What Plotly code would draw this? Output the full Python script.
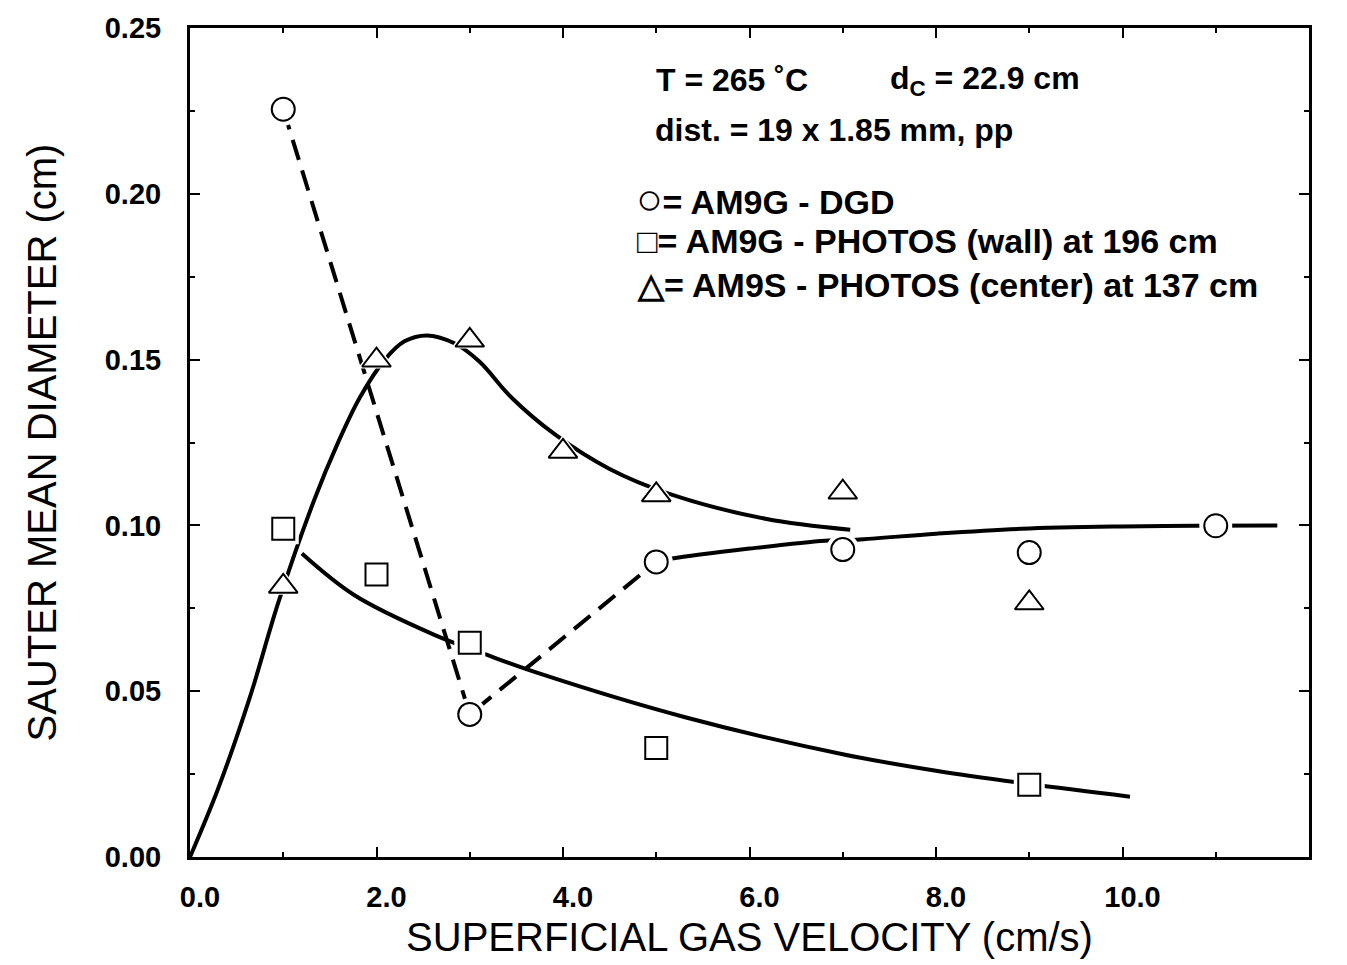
import plotly.graph_objects as go

vel_dgd = [1, 3, 5, 7, 9, 11]
dsm_dgd = [0.2255, 0.043, 0.089, 0.0927, 0.0918, 0.0999]

vel_wall = [1, 2, 3, 5, 9]
dsm_wall = [0.099, 0.0852, 0.0646, 0.0329, 0.0218]

vel_center = [1, 2, 3, 4, 5, 7, 9]
dsm_center = [0.0816, 0.1498, 0.1558, 0.1223, 0.1092, 0.110, 0.0766]

# ---- hand-drawn fit curves ----
fit_center_x = [0, 0.3, 0.64, 0.95, 1.33, 1.58, 1.82, 2.09, 2.3, 2.54, 2.83,
                3.10, 3.45, 3.91, 4.5, 5.14, 6.17, 7.08]
fit_center_y = [0, 0.0205, 0.048, 0.077, 0.1075, 0.1245, 0.1385, 0.150, 0.1555,
                0.1573, 0.155, 0.1495, 0.1385, 0.1275, 0.117, 0.1095, 0.102, 0.0987]

fit_wall_x = [1.2, 1.76, 2.62, 3.18, 3.72, 5.33, 7.0, 8.0, 9.0, 10.08]
fit_wall_y = [0.0915, 0.079, 0.067, 0.061, 0.0556, 0.042, 0.031, 0.026, 0.022, 0.0182]

fit_dgd_x = [5.0, 5.17, 6.0, 6.81, 7.15, 8.0, 8.92, 10.0, 10.78, 11.66]
fit_dgd_y = [0.089, 0.090, 0.093, 0.0954, 0.0957, 0.0975, 0.099, 0.0997, 0.0999, 0.1000]

x_ticks = [0, 2, 4, 6, 8, 10, 12]
y_ticks = [0, 0.05, 0.10, 0.15, 0.20, 0.25]

FONT = "Liberation Sans, Arial, Helvetica, sans-serif"
LW = 4

fig = go.Figure()

# fitted curves
for fx, fy in [(fit_center_x, fit_center_y), (fit_wall_x, fit_wall_y), (fit_dgd_x, fit_dgd_y)]:
    fig.add_trace(go.Scatter(x=fx, y=fy, mode="lines",
                             line=dict(color="black", width=LW, shape="spline", smoothing=1.0),
                             showlegend=False, hoverinfo="skip"))
# dashed connection of DGD points for low velocities
fig.add_trace(go.Scatter(x=vel_dgd[:3], y=dsm_dgd[:3], mode="lines",
                         line=dict(color="black", width=LW, dash="21px,11px"),
                         showlegend=False, hoverinfo="skip"))

# white halos (gaps around markers)
for xs, ys, sym, sz in [(vel_dgd, dsm_dgd, "circle", 33),
                        (vel_wall, dsm_wall, "square", 31),
                        (vel_center, dsm_center, "triangle-up", 33)]:
    fig.add_trace(go.Scatter(x=xs, y=ys, mode="markers",
                             marker=dict(symbol=sym, size=sz, color="white",
                                         line=dict(width=0)),
                             showlegend=False, hoverinfo="skip"))

# markers
fig.add_trace(go.Scatter(x=vel_dgd, y=dsm_dgd, mode="markers", name="AM9G - DGD",
                         marker=dict(symbol="circle", size=23, color="white",
                                     line=dict(color="black", width=2)),
                         showlegend=False))
fig.add_trace(go.Scatter(x=vel_wall, y=dsm_wall, mode="markers", name="AM9G - PHOTOS (wall)",
                         marker=dict(symbol="square", size=22, color="white",
                                     line=dict(color="black", width=2)),
                         showlegend=False))
fig.add_trace(go.Scatter(x=vel_center, y=dsm_center, mode="markers", name="AM9S - PHOTOS (center)",
                         marker=dict(symbol="triangle-up", size=25, color="white",
                                     line=dict(color="black", width=2)),
                         showlegend=False))

axis_common = dict(showline=True, linecolor="black", linewidth=3, mirror="ticks",
                   ticks="inside", ticklen=10, tickwidth=2, tickcolor="black",
                   showgrid=False, zeroline=False,
                   tickfont=dict(family=FONT, size=29, color="black", weight="bold"))

fig.update_xaxes(range=[0, 12], tickvals=x_ticks,
                 ticktext=[f"{v:.1f}" for v in x_ticks],
                 minor=dict(ticks="inside", ticklen=5, tickwidth=2, dtick=1, tickcolor="black"),
                 ticklabelstandoff=12, ticklabelshift=10,
                 title=dict(text="SUPERFICIAL GAS VELOCITY (cm/s)",
                            font=dict(family=FONT, size=40, color="black"),
                            standoff=12),
                 **axis_common)
fig.update_yaxes(range=[0, 0.25], tickvals=y_ticks,
                 ticktext=[f"{v:.2f}" for v in y_ticks],
                 minor=dict(ticks="inside", ticklen=5, tickwidth=2, dtick=0.025, tickcolor="black"),
                 ticklabelstandoff=20,
                 title=dict(text="SAUTER MEAN DIAMETER (cm)",
                            font=dict(family=FONT, size=40, color="black"),
                            standoff=36),
                 **axis_common)

ann_font = dict(family=FONT, size=32, color="black", weight="bold")
leg_font = dict(family=FONT, size=34, color="black", weight="bold")
big = '<span style="font-size:44px;font-weight:normal">\u25cb</span>'
texts = [
    (654, 71, "T = 265 \u02daC", ann_font),
    (888, 71, "d<sub>C</sub> = 22.9 cm", ann_font),
    (653, 121, "dist. = 19 x 1.85 mm, pp", ann_font),
    (634, 191, big + "= AM9G - DGD", leg_font),
    (635, 234, "\u25a1= AM9G - PHOTOS (wall) at 196 cm", leg_font),
    (635, 278, "\u25b3= AM9S - PHOTOS (center) at 137 cm", leg_font),
]
W, H = 1347, 965
ML, MR, MT, MB = 190, 38, 18, 107
pw, ph = W - ML - MR, H - MT - MB
for px, py, t, f in texts:
    fig.add_annotation(x=(px - ML) / pw, y=1 - (py - MT) / ph, xref="paper", yref="paper",
                       text=t, showarrow=False, xanchor="left", yanchor="middle",
                       font=f)

fig.update_layout(width=W, height=H, autosize=False,
                  margin=dict(l=ML, r=MR, t=MT, b=MB, pad=0),
                  plot_bgcolor="white", paper_bgcolor="white",
                  showlegend=False)

fig.write_html("out.html")
